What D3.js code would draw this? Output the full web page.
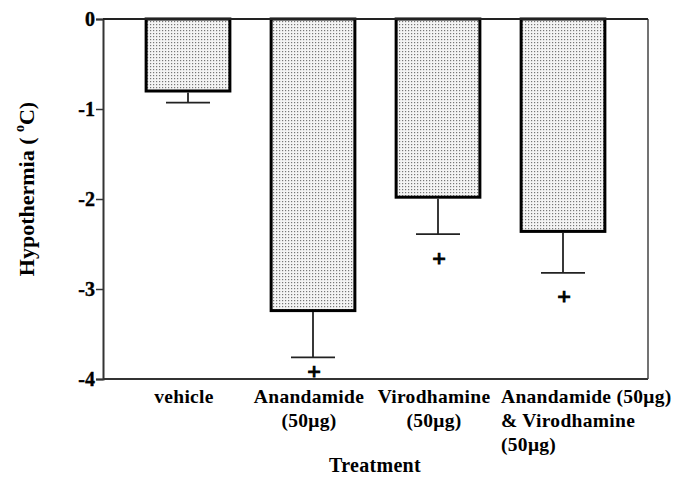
<!DOCTYPE html>
<html><head><meta charset="utf-8">
<script src="https://cdn.jsdelivr.net/npm/d3@7"></script>
<style>body{margin:0;background:#fff}svg{display:block}svg text{font-family:"Liberation Serif","Times New Roman",serif !important;font-weight:bold !important;fill:#000}</style>
</head><body><svg id="c" width="674" height="479"></svg>
<script>
const categories = ["vehicle", "Anandamide (50µg)", "Virodhamine (50µg)", "Anandamide (50µg) & Virodhamine (50µg)"];
const labelLines = [["vehicle"], ["Anandamide", "(50μg)"], ["Virodhamine", "(50μg)"], ["Anandamide (50μg)", "& Virodhamine", "(50μg)"]];
const means = [-0.80, -3.24, -1.98, -2.36];
const errors = [0.13, 0.52, 0.41, 0.46];
const markerValues = [null, -3.92, -2.66, -3.08]; // "+" significance marks
const yTicks = [0, -1, -2, -3, -4];

const svg = d3.select("#c");
const L = 103, R = 648, T = 19, B = 379;
const x = d3.scaleBand().domain(categories).range([L, R]).paddingInner(0.33).paddingOuter(0.345);
const y = d3.scaleLinear().domain([0, -4]).range([T, B]);

const defs = svg.append("defs");
const pat = defs.append("pattern").attr("id", "dots").attr("width", 3).attr("height", 3).attr("patternUnits", "userSpaceOnUse");
pat.append("rect").attr("width", 3).attr("height", 3).attr("fill", "#f4f4f4");
pat.append("rect").attr("width", 1.2).attr("height", 1.2).attr("fill", "#777");

// frame
svg.append("line").attr("x1", L).attr("x2", R).attr("y1", B).attr("y2", B).attr("stroke", "#333").attr("stroke-width", 2);
svg.append("line").attr("x1", R).attr("x2", R).attr("y1", T).attr("y2", B).attr("stroke", "#444").attr("stroke-width", 1.5);

// y axis
const yAxis = svg.append("g").attr("transform", `translate(${L},0)`)
  .call(d3.axisLeft(y).tickValues(yTicks).tickSize(7).tickFormat(d => d === 0 ? "0" : "-" + Math.abs(d)));
yAxis.attr("font-family", null).attr("font-size", null);
yAxis.select(".domain").attr("stroke", "#333").attr("stroke-width", 2);
yAxis.selectAll(".tick line").attr("stroke", "#333").attr("stroke-width", 1.5);
yAxis.selectAll(".tick text").attr("font-size", 20).attr("font-weight", "bold").attr("x", -8).attr("dy", "0.34em")
  .attr("fill", "#000").attr("stroke", "#000").attr("stroke-width", 0.4);

// bars
const g = svg.append("g");
categories.forEach((c, i) => {
  const cx = x(c) + x.bandwidth() / 2;
  g.append("rect").attr("x", x(c)).attr("y", y(0)).attr("width", x.bandwidth()).attr("height", y(means[i]) - y(0))
    .attr("fill", "url(#dots)").attr("stroke", "#000").attr("stroke-width", 3);
  const yb = y(means[i]), ye = y(means[i] - errors[i]);
  g.append("line").attr("x1", cx).attr("x2", cx).attr("y1", yb + 1.5).attr("y2", ye).attr("stroke", "#222").attr("stroke-width", 1.8);
  g.append("line").attr("x1", cx - 22).attr("x2", cx + 22).attr("y1", ye).attr("y2", ye).attr("stroke", "#222").attr("stroke-width", 1.8);
  if (markerValues[i] !== null) {
    g.append("text").attr("x", cx + 1).attr("y", y(markerValues[i])).attr("dy", "0.32em")
      .attr("text-anchor", "middle").attr("font-size", 24).attr("stroke", "#000").attr("stroke-width", 1).text("+");
  }
});

// top zero line
svg.append("line").attr("x1", L).attr("x2", R).attr("y1", T).attr("y2", T).attr("stroke", "#222").attr("stroke-width", 2);

// x labels
labelLines.forEach((lines, i) => {
  const c = categories[i];
  const cx = x(c) + x.bandwidth() / 2;
  const last = i === labelLines.length - 1;
  const t = svg.append("text").attr("font-size", 19.5).attr("letter-spacing", 0.3).attr("text-anchor", last ? "start" : "middle");
  lines.forEach((ln, j) => {
    t.append("tspan").attr("x", last ? 501 : cx - 4).attr("y", 403 + j * 24).text(ln);
  });
});

svg.append("text").attr("x", 375).attr("y", 472).attr("text-anchor", "middle").attr("font-size", 20).attr("letter-spacing", 0.3).text("Treatment");

const yt = svg.append("text").attr("transform", "translate(34,189) rotate(-90)").attr("text-anchor", "middle").attr("font-size", 22);
yt.append("tspan").text("Hypothermia ( ");
yt.append("tspan").attr("font-size", 14).attr("dy", -10).text("o");
yt.append("tspan").attr("dy", 10).text("C)");
</script></body></html>
